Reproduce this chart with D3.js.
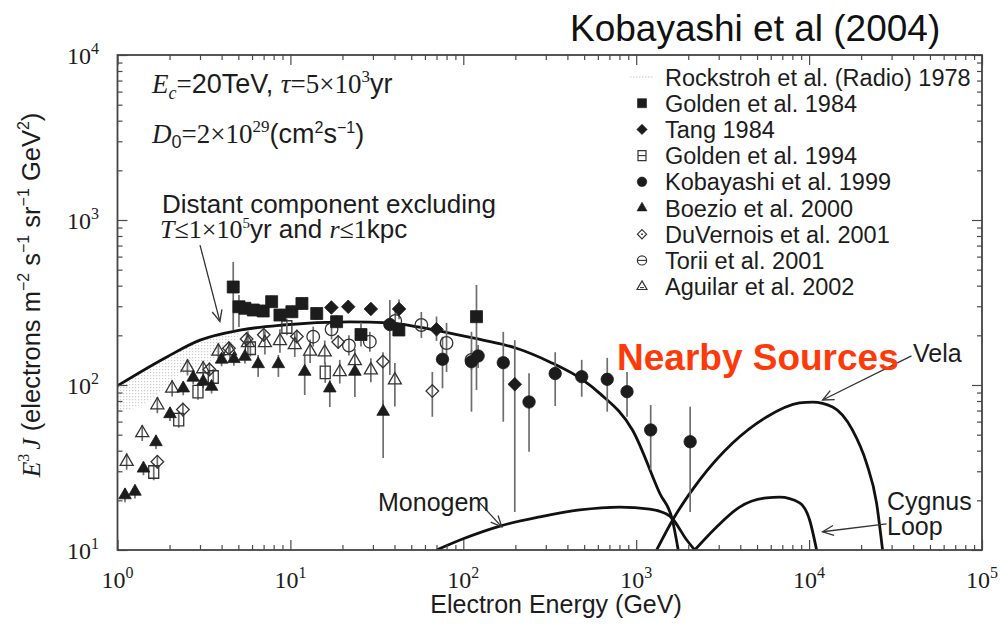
<!DOCTYPE html>
<html>
<head>
<meta charset="utf-8">
<script src="https://cdn.jsdelivr.net/npm/d3@7"></script>
<style>
  body { margin: 0; background: #fff; }
  svg { display: block; }
  .sans { font-family: "Liberation Sans", Arial, Helvetica, sans-serif; }
  .serif { font-family: "Liberation Serif", "Times New Roman", serif; }
</style>
</head>
<body>
<svg id="chart" width="1005" height="632"></svg>
<script>
// ---------- axis tick labels ----------
const xTickValues = [1, 10, 100, 1000, 10000, 100000];
const xTickExps = ["0", "1", "2", "3", "4", "5"];
const yTickValues = [10, 100, 1000, 10000];
const yTickExps = ["1", "2", "3", "4"];
const tickBase = "10";

// ---------- model curves (energy GeV, E^3 J) ----------
const distantE = [1.0, 1.93, 3.0, 5.1, 9.06, 22, 37.6, 54.6, 83.5, 130, 203, 316, 493, 615, 955, 1370, 1625, 1750];
const distantV = [99, 148, 187, 215, 231, 241, 238, 225, 206, 187, 167, 138, 107, 89, 53, 22, 15, 10];

const monogemE = [70, 99, 163, 277, 471, 803, 1197, 1563, 1960, 2180];
const monogemV = [10, 11.66, 13.97, 15.85, 17.48, 18.2, 17.7, 16.07, 11.5, 10];

const velaE = [1313, 1625, 2330, 3612, 5680, 8810, 10470, 13680, 17830, 21480, 24550, 26600];
const velaV = [10, 15.2, 26.6, 44.5, 64, 77.8, 78.8, 73.6, 53.3, 33.6, 19.3, 10];

const cygnusE = [2180, 2918, 3963, 5680, 6750, 8810, 10070, 11050];
const cygnusV = [10, 13.8, 18.2, 20.7, 20.9, 19.3, 15.2, 10];

// Rockstroh radio band
const radioE = [1.0, 1.54, 2.39, 3.76, 4.65, 5.2];
const radioLo = [67.7, 81, 118, 148, 180, 212];
const radioHi = [99, 128, 166, 199, 210, 216];

// ---------- measurements ----------
const golden84E = [4.67, 5.04, 5.46, 6.10, 6.96, 7.79, 8.70, 10.2, 11.66, 14.2, 18.5, 25.6, 42.4, 119.2];
const golden84V = [392.6, 298, 291.7, 284.8, 280.9, 319.8, 265.5, 278, 311.9, 271.2, 241.9, 202.3, 215.4, 259.4];
const golden84Lo = [215, 225, 268, 262, 258, 294, 244, 255, 286, 249, 222, 171, 198, 93.3];
const golden84Hi = [556, 351, 318, 310, 306, 348, 289, 303, 340, 296, 264, 239, 235, 404];

const tangE = [17.26, 21.6, 29.2, 42.5, 70, 198.5];
const tangV = [295, 298, 289, 289, 217.5, 101];
const tangLo = [271, 274, 265, 250, 185, 17];
const tangHi = [321, 324, 314, 330, 260, 187];

const golden94E = [1.62, 2.26, 2.92, 3.58, 5.87, 9.54, 15.9];
const golden94V = [29.7, 61.6, 91.1, 111.8, 167, 224.7, 119.1];
const golden94Lo = [26.5, 55, 81.3, 99.8, 149, 200, 103];
const golden94Hi = [33.3, 69, 102, 125, 187, 252, 137];

const kobayashiE = [37.6, 75.8, 111.5, 121.8, 170.3, 240, 340, 484, 680, 885, 1213, 2052];
const kobayashiV = [232.6, 143.2, 138.4, 149.9, 136.5, 78.9, 117.4, 112.3, 108.3, 91.1, 53.4, 45.3];
const kobayashiLo = [115, 95.5, 68.9, 126.8, 59.9, 39.4, 74.6, 84.9, 68.9, 64.2, 30.5, 17.0];
const kobayashiHi = [327, 196, 210, 175, 210, 118, 158, 142, 146, 120, 75.6, 73.9];

const boezioE = [1.105, 1.262, 1.413, 1.669, 2.012, 2.40, 2.74, 3.13, 3.50, 4.00, 4.71, 5.46, 6.51, 8.52, 12.1, 16.9, 23.6, 34.4];
const boezioV = [21.5, 22.6, 31.2, 45.1, 66.7, 95.5, 111, 105, 97.7, 142.7, 143.8, 148.5, 134, 134, 120.4, 95.5, 120.4, 68.9];
const boezioLo = [19.5, 20.5, 28.4, 41, 60.6, 86.8, 101, 95.5, 88.8, 130, 131, 135, 112, 112, 87, 73.6, 84.6, 36.1];
const boezioHi = [23.7, 24.9, 34.3, 49.6, 73.4, 105, 122, 116, 107, 157, 158, 163, 152, 152, 152, 107, 138, 81];

const duvernoisE = [1.70, 2.39, 3.40, 4.41, 5.58, 7.01, 10.9, 18.9, 34.3, 66.2];
const duvernoisV = [34.3, 71.0, 124.2, 167, 190, 201.7, 196.8, 182.2, 138.8, 91.9];
const duvernoisLo = [31.2, 64.5, 113, 152, 173, 183, 179, 166, 75, 64.2];
const duvernoisHi = [37.7, 78.1, 137, 184, 209, 222, 216, 200, 158, 120];

const toriiE = [13.55, 17.3, 21.8, 28.8, 40.4, 57.2, 80, 111.5];
const toriiV = [196.2, 217.6, 173.6, 183, 244.3, 231, 179.7, 141.8];
const toriiLo = [171, 189, 151, 159, 208, 193, 120, 123];
const toriiHi = [226, 250, 200, 210, 287, 277, 238, 163];

const aguilarE = [1.13, 1.39, 1.70, 2.07, 2.54, 3.13, 3.83, 4.47, 5.68, 7.12, 8.70, 10.6, 13.0, 15.8, 19.3, 23.6, 29.2, 40.2];
const aguilarV = [34.3, 51.2, 75.6, 95.5, 128, 125, 160, 161, 180, 180, 185, 175, 160, 158, 120, 140, 123, 107];
const aguilarLo = [30.6, 45.7, 67.5, 85.3, 114, 112, 143, 144, 153, 153, 157, 148, 136, 134, 102, 119, 104, 74];
const aguilarHi = [38.4, 57.3, 84.7, 107, 143, 140, 179, 180, 212, 212, 218, 206, 189, 186, 142, 165, 145, 136];

// ---------- legend ----------
const legendLabels = ["Rockstroh et al. (Radio) 1978", "Golden et al. 1984", "Tang 1984", "Golden et al. 1994",
  "Kobayashi et al. 1999", "Boezio et al. 2000", "DuVernois et al. 2001", "Torii et al. 2001", "Aguilar et al. 2002"];
const legendSymbols = ["band", "squareFill", "diamondFill", "squareOpen", "circleFill", "triangleFill",
  "diamondOpen", "circleOpen", "triangleOpen"];

// ---------- layout ----------
const plot = { left: 117.5, right: 982, top: 55, bottom: 550 };
const x = d3.scaleLog().domain([1, 1e5]).range([plot.left, plot.right]);
const y = d3.scaleLog().domain([10, 1e4]).range([plot.bottom, plot.top]);
const ink = "#1c1c1c";

const svg = d3.select("#chart");
const defs = svg.append("defs");
defs.append("clipPath").attr("id", "plotClip")
  .append("rect").attr("x", plot.left).attr("y", plot.top)
  .attr("width", plot.right - plot.left).attr("height", plot.bottom - plot.top);

const pat = defs.append("pattern").attr("id", "dots").attr("width", 3).attr("height", 3)
  .attr("patternUnits", "userSpaceOnUse");
pat.append("rect").attr("width", 1.2).attr("height", 1.2).attr("fill", "#cdcdcd");

defs.append("marker").attr("id", "arrow").attr("viewBox", "-1 -7 14 14")
  .attr("refX", 11).attr("refY", 0).attr("markerWidth", 14).attr("markerHeight", 14)
  .attr("markerUnits", "userSpaceOnUse").attr("orient", "auto")
  .append("path").attr("d", "M0,-5L11,0L0,5").attr("fill", "none")
  .attr("stroke", "#333").attr("stroke-width", 1.3);

const zip = (es, vs) => es.map((e, i) => ({ e, v: vs[i] }));

// ---------- radio band ----------
const plotG = svg.append("g").attr("clip-path", "url(#plotClip)");
plotG.append("path")
  .datum(radioE.map((e, i) => ({ e, lo: radioLo[i], hi: radioHi[i] })))
  .attr("fill", "url(#dots)")
  .attr("d", d3.area().x(d => x(d.e)).y0(d => y(d.lo)).y1(d => y(d.hi)).curve(d3.curveMonotoneX));

// ---------- curves ----------
const line = d3.line().x(d => x(d.e)).y(d => y(d.v)).curve(d3.curveMonotoneX);
[[distantE, distantV], [monogemE, monogemV], [velaE, velaV], [cygnusE, cygnusV]].forEach(([es, vs]) => {
  plotG.append("path").datum(zip(es, vs)).attr("d", line)
    .attr("fill", "none").attr("stroke", "#111").attr("stroke-width", 2.8)
    .attr("stroke-linejoin", "round");
});

// ---------- markers ----------
function shape(type, r) {
  if (type === "square") return `M${-r},${-r}H${r}V${r}H${-r}Z`;
  if (type === "rect") return `M${-r},${-r * 1.25}H${r}V${r * 1.25}H${-r}Z`;
  if (type === "diamond") return `M0,${-r}L${r},0L0,${r}L${-r},0Z`;
  if (type === "circle") return `M${r},0A${r},${r} 0 1,1 ${-r},0A${r},${r} 0 1,1 ${r},0Z`;
  if (type === "triangle") { const h = r * Math.sqrt(3); return `M0,${-h * 2 / 3}L${r},${h / 3}L${-r},${h / 3}Z`; }
  return "";
}
const symbolStyle = {
  squareFill:   { shape: "square",   r: 6,   fill: ink },
  diamondFill:  { shape: "diamond",  r: 6.8, fill: ink },
  circleFill:   { shape: "circle",   r: 6.2, fill: ink },
  triangleFill: { shape: "triangle", r: 6.3, fill: ink },
  squareOpen:   { shape: "rect",     r: 5,   fill: "none" },
  diamondOpen:  { shape: "diamond",  r: 6.3, fill: "none" },
  circleOpen:   { shape: "circle",   r: 6.3, fill: "none" },
  triangleOpen: { shape: "triangle", r: 6.5, fill: "none" }
};

const series = [
  { sym: "triangleOpen", e: aguilarE, v: aguilarV, lo: aguilarLo, hi: aguilarHi },
  { sym: "diamondOpen", e: duvernoisE, v: duvernoisV, lo: duvernoisLo, hi: duvernoisHi },
  { sym: "squareOpen", e: golden94E, v: golden94V, lo: golden94Lo, hi: golden94Hi },
  { sym: "circleOpen", e: toriiE, v: toriiV, lo: toriiLo, hi: toriiHi },
  { sym: "triangleFill", e: boezioE, v: boezioV, lo: boezioLo, hi: boezioHi },
  { sym: "squareFill", e: golden84E, v: golden84V, lo: golden84Lo, hi: golden84Hi },
  { sym: "diamondFill", e: tangE, v: tangV, lo: tangLo, hi: tangHi },
  { sym: "circleFill", e: kobayashiE, v: kobayashiV, lo: kobayashiLo, hi: kobayashiHi }
];

const barG = plotG.append("g");
const markG = plotG.append("g");
series.forEach(s => {
  const pts = s.e.map((e, i) => ({ e, v: s.v[i], lo: s.lo[i], hi: s.hi[i] }));
  barG.selectAll(null).data(pts).join("line")
    .attr("x1", d => x(d.e)).attr("x2", d => x(d.e))
    .attr("y1", d => y(d.lo)).attr("y2", d => y(d.hi))
    .attr("stroke", "#6e6e6e").attr("stroke-width", 1.7);
  const st = symbolStyle[s.sym];
  markG.selectAll(null).data(pts).join("path")
    .attr("transform", d => `translate(${x(d.e)},${y(d.v)})`)
    .attr("d", shape(st.shape, st.r))
    .attr("fill", st.fill)
    .attr("stroke", st.fill === "none" ? "#333" : ink)
    .attr("stroke-width", st.fill === "none" ? 1.3 : 0.8);
});

// ---------- axes: inward ticks on all four sides ----------
const minorX = x.ticks().filter(v => !xTickValues.includes(v));
const minorY = y.ticks().filter(v => !yTickValues.includes(v));
function ticks(axisFn, scale, tr, values, size) {
  svg.append("g").attr("transform", tr)
    .call(axisFn(scale).tickValues(values).tickSize(size).tickSizeOuter(0).tickFormat(""))
    .call(g => g.select(".domain").remove())
    .call(g => g.selectAll("line").attr("stroke", "#4a4a4a").attr("stroke-width", 1.2));
}
ticks(d3.axisBottom, x, `translate(0,${plot.bottom})`, xTickValues, -10);
ticks(d3.axisBottom, x, `translate(0,${plot.bottom})`, minorX, -5);
ticks(d3.axisTop, x, `translate(0,${plot.top})`, xTickValues, -10);
ticks(d3.axisTop, x, `translate(0,${plot.top})`, minorX, -5);
ticks(d3.axisLeft, y, `translate(${plot.left},0)`, yTickValues, -10);
ticks(d3.axisLeft, y, `translate(${plot.left},0)`, minorY, -5);
ticks(d3.axisRight, y, `translate(${plot.right},0)`, yTickValues, -10);
ticks(d3.axisRight, y, `translate(${plot.right},0)`, minorY, -5);

svg.append("rect").attr("x", plot.left).attr("y", plot.top)
  .attr("width", plot.right - plot.left).attr("height", plot.bottom - plot.top)
  .attr("fill", "none").attr("stroke", "#444").attr("stroke-width", 1.8);

// tick labels: 10^n
const tickLab = svg.append("g").attr("class", "serif").attr("font-size", 24).attr("fill", ink);
xTickValues.forEach((v, i) => {
  const t = tickLab.append("text").attr("x", x(v)).attr("y", plot.bottom + 38).attr("text-anchor", "middle");
  t.append("tspan").text(tickBase);
  t.append("tspan").attr("dy", -10).attr("font-size", 16).text(xTickExps[i]);
});
yTickValues.forEach((v, i) => {
  const t = tickLab.append("text").attr("x", 99).attr("y", y(v) + 9).attr("text-anchor", "end");
  t.append("tspan").text(tickBase);
  t.append("tspan").attr("dy", -10).attr("font-size", 16).text(yTickExps[i]);
});

// ---------- axis titles ----------
svg.append("text").attr("class", "sans").attr("x", 556).attr("y", 613)
  .attr("text-anchor", "middle").attr("font-size", 25).attr("fill", ink)
  .text("Electron Energy (GeV)");

function rich(textSel, parts) {
  parts.forEach(p => {
    const ts = textSel.append("tspan").text(p.t);
    if (p.serif) ts.attr("class", "serif");
    if (p.it) ts.attr("font-style", "italic");
    if (p.fs) ts.attr("font-size", p.fs);
    if (p.dy) ts.attr("dy", p.dy);
    if (p.dx) ts.attr("dx", p.dx);
    if (p.x !== undefined) ts.attr("x", p.x);
  });
}
const yt = svg.append("text").attr("class", "sans").attr("transform", "translate(40,295) rotate(-90)")
  .attr("text-anchor", "middle").attr("font-size", 25.5).attr("fill", ink);
rich(yt, [
  { t: "E", serif: true, it: true }, { t: "3", serif: true, fs: 16, dy: -11 },
  { t: "J", serif: true, it: true, dy: 11, dx: 4 },
  { t: " (electrons m" }, { t: "−2", fs: 16, dy: -11 },
  { t: " s", dy: 11 }, { t: "−1", fs: 16, dy: -11 },
  { t: " sr", dy: 11 }, { t: "−1", fs: 16, dy: -11 },
  { t: " GeV", dy: 11 }, { t: "2", fs: 16, dy: -11 }, { t: ")", dy: 11 }
]);

// ---------- title ----------
svg.append("text").attr("class", "sans").attr("x", 570).attr("y", 41)
  .attr("font-size", 37).attr("fill", "#111").text("Kobayashi et al (2004)");

// ---------- model parameters ----------
const t1 = svg.append("text").attr("class", "sans").attr("x", 152).attr("y", 93).attr("font-size", 27).attr("fill", ink);
rich(t1, [
  { t: "E", serif: true, it: true }, { t: "c", serif: true, it: true, fs: 18, dy: 6 },
  { t: "=", serif: true, dy: -6 }, { t: "20TeV, " },
  { t: "τ", serif: true, it: true }, { t: "=5×10", serif: true },
  { t: "3", serif: true, fs: 17, dy: -11 }, { t: "yr", dy: 11 }
]);
const t2 = svg.append("text").attr("class", "sans").attr("x", 152).attr("y", 143).attr("font-size", 27).attr("fill", ink);
rich(t2, [
  { t: "D", serif: true, it: true }, { t: "0", fs: 18, dy: 5 },
  { t: "=2×10", serif: true, dy: -5 }, { t: "29", serif: true, fs: 17, dy: -11 },
  { t: "(cm", dy: 11 }, { t: "2", fs: 16, dy: -10 }, { t: "s", dy: 10 },
  { t: "−1", fs: 16, dy: -10 }, { t: ")", dy: 10 }
]);

// ---------- distant component note (two lines in one text block) ----------
const t3 = svg.append("text").attr("class", "sans").attr("x", 162).attr("y", 213)
  .attr("font-size", 26).attr("fill", ink);
rich(t3, [
  { t: "Distant component excluding" },
  { t: "T", serif: true, it: true, x: 160, dy: 25 }, { t: "≤1×10", serif: true },
  { t: "5", serif: true, fs: 15, dy: -10 }, { t: "yr and ", dy: 10 },
  { t: "r", serif: true, it: true }, { t: "≤1", serif: true }, { t: "kpc" }
]);

// ---------- source labels and arrows ----------
function arrow(e0, v0, e1, v1) {
  svg.append("line").attr("x1", x(e0)).attr("y1", y(v0)).attr("x2", x(e1)).attr("y2", y(v1))
    .attr("stroke", "#333").attr("stroke-width", 1.3).attr("marker-end", "url(#arrow)");
}
arrow(3.0, 705, 3.91, 243);
arrow(39100, 150, 11970, 81.1);
arrow(28050, 14.4, 11970, 12.9);
arrow(124.5, 19.3, 167, 13.8);

svg.append("text").attr("class", "sans").attr("x", 617).attr("y", 370)
  .attr("font-size", 37).attr("font-weight", "bold").attr("fill", "#ff3a0a").text("Nearby Sources");
const lab = svg.append("g").attr("class", "sans").attr("font-size", 25).attr("fill", ink);
lab.append("text").attr("x", 913).attr("y", 362).text("Vela");
lab.append("text").attr("x", 887).attr("y", 510).text("Cygnus");
lab.append("text").attr("x", 887).attr("y", 535).text("Loop");
lab.append("text").attr("x", 378).attr("y", 511).text("Monogem");

// ---------- legend ----------
const leg = svg.append("g").attr("class", "sans").attr("font-size", 23.5).attr("fill", ink);
const legSmall = {
  squareFill: 4.5, diamondFill: 5.2, circleFill: 4.8, triangleFill: 5,
  squareOpen: 4, diamondOpen: 4.6, circleOpen: 4.6, triangleOpen: 5
};
legendLabels.forEach((label, i) => {
  const cy = 77 + 26.2 * i;
  const sym = legendSymbols[i];
  if (sym === "band") {
    leg.append("line").attr("x1", 630).attr("x2", 654).attr("y1", cy).attr("y2", cy)
      .attr("stroke", "#c8c8c8").attr("stroke-width", 1.2).attr("stroke-dasharray", "1.5,1.5");
  } else {
    const st = symbolStyle[sym];
    const g = leg.append("g").attr("transform", `translate(642,${cy})`);
    g.append("path").attr("d", shape(st.shape, legSmall[sym]))
      .attr("fill", st.fill).attr("stroke", st.fill === "none" ? "#333" : ink)
      .attr("stroke-width", st.fill === "none" ? 1.2 : 0.6);
    if (sym === "squareOpen" || sym === "circleOpen") {
      g.append("line").attr("x1", -4).attr("x2", 4).attr("y1", 0).attr("y2", 0)
        .attr("stroke", "#333").attr("stroke-width", 1.1);
    }
    if (sym === "diamondOpen") {
      g.append("circle").attr("r", 0.9).attr("fill", "#333");
    }
    if (sym === "triangleOpen") {
      g.append("line").attr("x1", -2).attr("x2", 2).attr("y1", 1).attr("y2", 1)
        .attr("stroke", "#333").attr("stroke-width", 1);
    }
  }
  leg.append("text").attr("x", 665).attr("y", cy + 8.5).text(label);
});
</script>
</body>
</html>
